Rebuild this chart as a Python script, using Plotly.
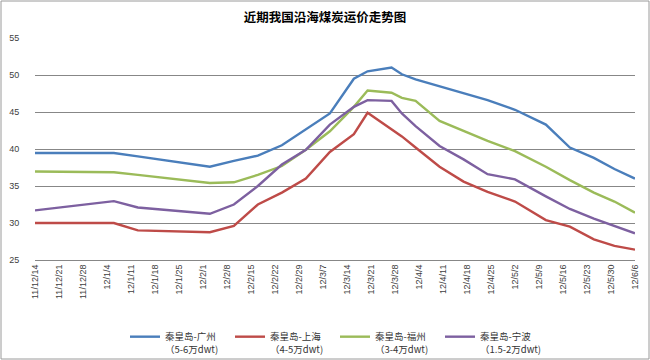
import plotly.graph_objects as go

dates = ["2011-12-14", "2012-01-06", "2012-01-13", "2012-02-03", "2012-02-10",
         "2012-02-17", "2012-02-24", "2012-03-02", "2012-03-09", "2012-03-16",
         "2012-03-20", "2012-03-27", "2012-03-30", "2012-04-03", "2012-04-10",
         "2012-04-17", "2012-04-24", "2012-05-02", "2012-05-11", "2012-05-18",
         "2012-05-25", "2012-05-31", "2012-06-06"]

guangzhou = [39.45, 39.45, 39.0, 37.6, 38.4, 39.1, 40.5, 42.7, 44.8, 49.5, 50.5, 51.0,
             50.1, 49.4, 48.5, 47.5, 46.6, 45.3, 43.3, 40.2, 38.8, 37.3, 36.0]
shanghai = [30.0, 30.0, 29.0, 28.75, 29.6, 32.5, 34.1, 36.0, 39.6, 42.0, 44.9, 42.6,
            41.7, 40.2, 37.6, 35.6, 34.2, 32.9, 30.4, 29.5, 27.8, 26.9, 26.4]
fuzhou = [36.95, 36.85, 36.5, 35.4, 35.5, 36.5, 37.7, 39.9, 42.4, 45.7, 47.9, 47.6,
          46.9, 46.5, 43.8, 42.4, 41.1, 39.7, 37.6, 35.8, 34.1, 32.9, 31.4]
ningbo = [31.7, 32.95, 32.1, 31.25, 32.5, 35.0, 37.9, 39.9, 43.3, 45.7, 46.6, 46.5,
          44.8, 43.1, 40.4, 38.6, 36.6, 35.9, 33.6, 31.9, 30.6, 29.6, 28.6]

names = ["秦皇岛-广州<br>（5-6万dwt)", "秦皇岛-上海<br>（4-5万dwt)",
         "秦皇岛-福州<br>（3-4万dwt)", "秦皇岛-宁波<br>（1.5-2万dwt)"]
series = [guangzhou, shanghai, fuzhou, ningbo]
colors = ["#4A7EBB", "#BE4B48", "#9BBB59", "#7D60A0"]

title = "近期我国沿海煤炭运价走势图"

fig = go.Figure()
for n, s, c in zip(names, series, colors):
    fig.add_trace(go.Scatter(x=dates, y=s, name=n, mode="lines",
                             line=dict(color=c, width=2.4)))

W, H = 650, 360
L, R, T, B = 35, 15, 38, 100
pw, ph = W - L - R, H - T - B
tickfont = dict(family="Liberation Sans, Arial, sans-serif", size=9, color="#404040")

fig.update_layout(
    width=W, height=H,
    margin=dict(l=L, r=R, t=T, b=B, autoexpand=False),
    paper_bgcolor="white", plot_bgcolor="white",
    font=dict(family="Noto Sans CJK SC, Microsoft YaHei, sans-serif", size=10, color="#404040"),
    title=dict(text="<b>" + title + "</b>", x=0.5, xanchor="center", y=1 - 18 / H, yanchor="middle",
               font=dict(size=12.5, color="#000000")),
    showlegend=True,
    legend=dict(orientation="h", x=0.5, xanchor="center", y=-(324 - T - ph) / ph,
                yanchor="top", font=dict(size=9.5, color="#333333"),
                entrywidth=60, entrywidthmode="pixels", valign="top",
                tracegroupgap=0, bgcolor="rgba(0,0,0,0)"),
    xaxis=dict(type="date", range=["2011-12-14", "2012-06-06"], tick0="2011-12-14",
               dtick=7 * 86400000, tickformat="%y/%-m/%-d", tickangle=-90,
               showgrid=False, zeroline=False, showline=True, linecolor="#878787",
               linewidth=1, ticks="", tickfont=tickfont),
    yaxis=dict(range=[25, 55], dtick=5, tick0=25, showgrid=True, gridcolor="#878787",
               gridwidth=1, zeroline=False, showline=False, ticks="outside",
               ticklen=13, tickcolor="rgba(0,0,0,0)", tickfont=tickfont),
    shapes=[dict(type="rect", xref="paper", yref="paper",
                 x0=(-L + 1) / pw, x1=(W - L - 1) / pw,
                 y0=(-B + 1) / ph, y1=(ph + T - 1) / ph,
                 line=dict(color="#9a9a9a", width=1), fillcolor="rgba(0,0,0,0)")],
)

fig.write_html("out.html", config={"displayModeBar": False},
               post_script="document.body.style.margin='0';document.body.style.overflow='hidden';")
